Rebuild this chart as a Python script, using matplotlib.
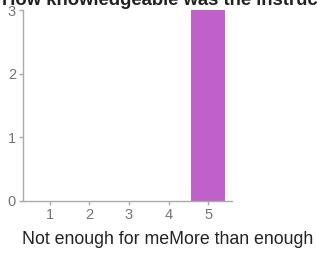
import matplotlib
matplotlib.use("Agg")
import matplotlib.pyplot as plt

plt.rcParams['font.family'] = ['Liberation Sans', 'DejaVu Sans']

categories = [1, 2, 3, 4, 5]
counts = [0, 0, 0, 0, 3]
yticks = [0, 1, 2, 3]
title = "How knowledgeable was the instructor?"
xlabel = "Not enough for meMore than enough"

fig = plt.figure(figsize=(3.17, 2.61), dpi=100)
ax = fig.add_axes([23 / 317, 1 - 201 / 261, (232 - 23) / 317, (201 - 10) / 261])

ax.bar(categories, counts, width=0.85, color="#c061cb")

ax.set_xlim(0.33, 5.6)
ax.set_ylim(0, 3)
ax.set_xticks(categories)
ax.set_yticks(yticks)

for s in ["top", "right"]:
    ax.spines[s].set_visible(False)
for s in ["left", "bottom"]:
    ax.spines[s].set_color("#aaaaaa")
    ax.spines[s].set_linewidth(1)
ax.tick_params(axis="both", colors="#aaaaaa", length=3, width=1,
               labelsize=10.5, labelcolor="#757575", pad=2)

fig.text(2 / 317, 1 - 5 / 261, title, fontsize=13.3, fontweight="bold",
         ha="left", va="baseline", color="#222222")
fig.text(168 / 317, 1 - 240 / 261, xlabel, fontsize=12.8,
         ha="center", va="center", color="#222222")

fig.savefig("out.png", dpi=100)
